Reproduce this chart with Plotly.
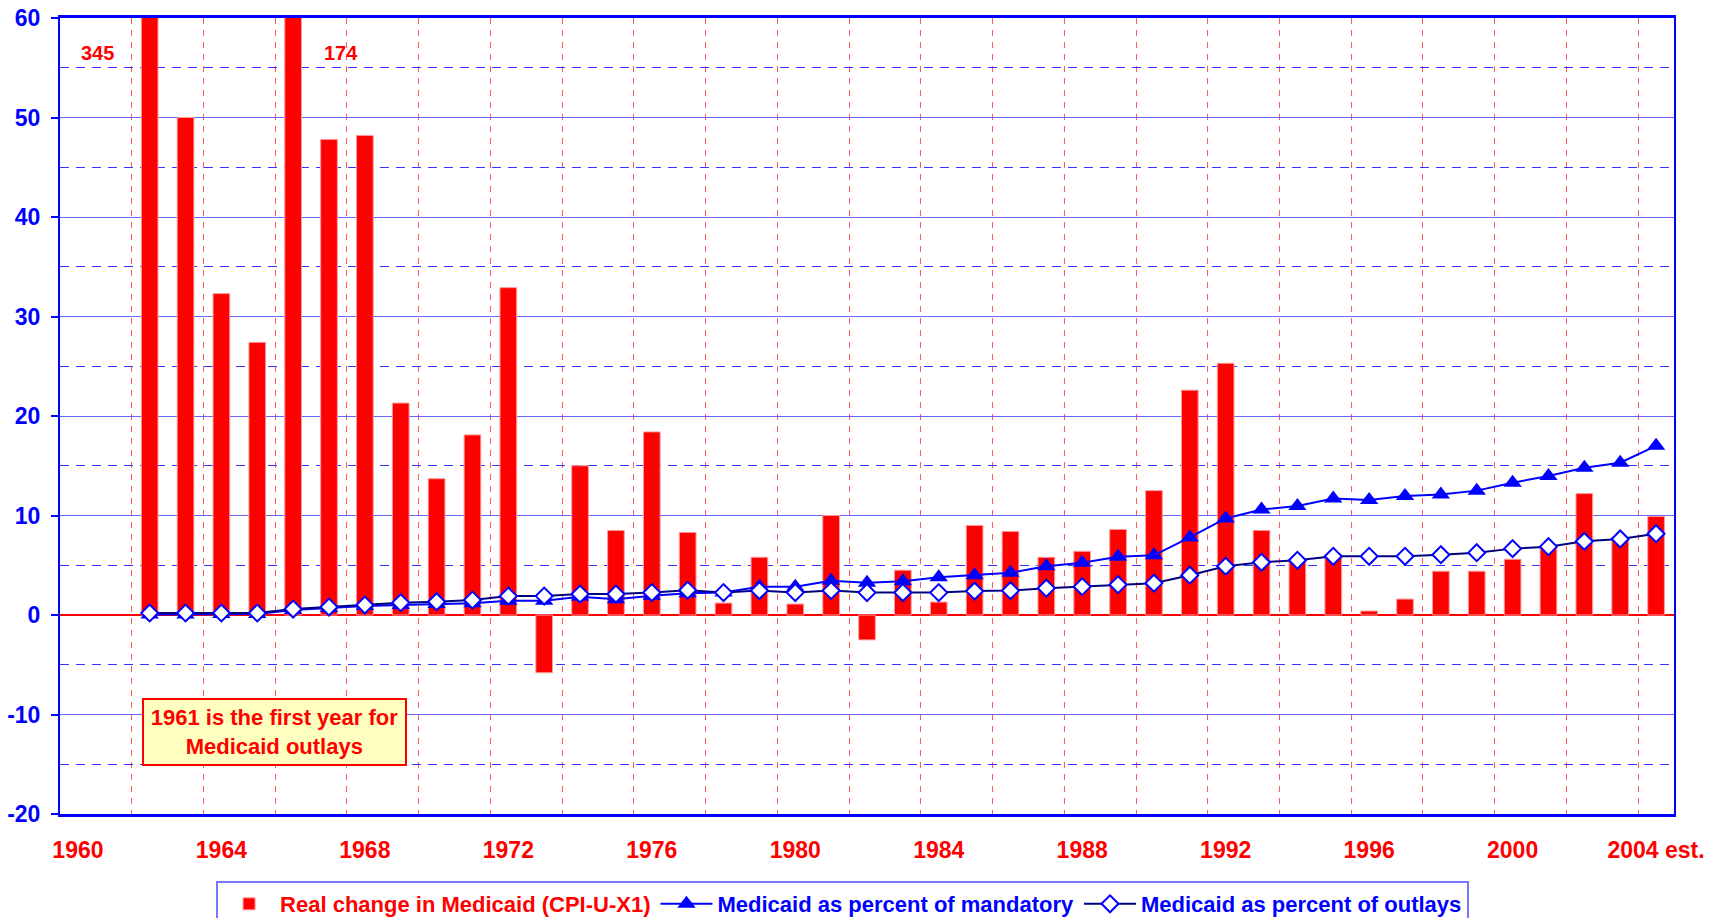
import plotly.graph_objects as go

years = list(range(1962, 2005))
real_change = [345, 50.0, 32.3, 27.4, 174, 47.8, 48.2, 21.3, 13.7, 18.1,
               32.9, -5.8, 15.0, 8.5, 18.4, 8.3, 1.2, 5.8, 1.1, 10.0,
               -2.5, 4.5, 1.3, 9.0, 8.4, 5.8, 6.4, 8.6, 12.5, 22.6,
               25.3, 8.5, 5.6, 5.9, 0.4, 1.6, 4.4, 4.4, 5.6, 6.9,
               12.2, 7.8, 9.9]
pct_mandatory = [0.05, 0.05, 0.1, 0.1, 0.5, 0.7, 0.9, 1.0, 1.1, 1.17,
                 1.44, 1.44, 1.84, 1.58, 1.94, 2.18, 2.25, 2.85, 2.85, 3.45,
                 3.25, 3.4, 3.8, 4.0, 4.25, 4.9, 5.25, 5.85, 6.0, 7.8,
                 9.7, 10.6, 10.95, 11.7, 11.55, 11.96, 12.1, 12.5, 13.3, 13.97,
                 14.8, 15.3, 17.0]
pct_outlays = [0.2, 0.2, 0.2, 0.2, 0.6, 0.8, 1.0, 1.24, 1.34, 1.5,
               1.9, 1.9, 2.1, 2.1, 2.25, 2.48, 2.25, 2.45, 2.25, 2.45,
               2.25, 2.25, 2.25, 2.4, 2.45, 2.7, 2.85, 3.05, 3.2, 4.0,
               4.9, 5.3, 5.5, 5.9, 5.9, 5.9, 6.06, 6.26, 6.67, 6.87,
               7.4, 7.64, 8.17]
tick_years = list(range(1960, 2005, 4))
tick_labels = [str(y) for y in tick_years[:-1]] + ["2004 est."]
y_ticks = list(range(-20, 61, 10))
y_tick_labels = [str(v) for v in y_ticks]
big_years = [1962, 1966]

FONT = "Liberation Sans, Arial, sans-serif"
RED = "#ff0000"
BLUE = "#0000ff"

fig = go.Figure()
fig.add_trace(go.Bar(
    x=years, y=real_change,
    name="<span style='color:#ff0000'>Real change in Medicaid (CPI-U-X1)</span>",
    marker=dict(color=RED, line=dict(color="#ff9999", width=1)),
))
fig.add_trace(go.Scatter(
    x=years, y=pct_mandatory, mode="lines+markers",
    name="Medicaid as percent of mandatory",
    line=dict(color=BLUE, width=2),
    marker=dict(symbol="triangle-up", size=16, color=BLUE),
))
fig.add_trace(go.Scatter(
    x=years, y=pct_outlays, mode="lines+markers",
    name="Medicaid as percent of outlays",
    line=dict(color="#000080", width=2),
    marker=dict(symbol="diamond", size=13, color="white",
                line=dict(color=BLUE, width=2)),
))

annotations = []
shifts = {1962: -52, 1966: 48}
for yr in big_years:
    v = real_change[years.index(yr)]
    annotations.append(dict(
        x=yr, y=56.5, xref="x", yref="y", text=str(int(v)), showarrow=False,
        xshift=shifts[yr],
        font=dict(family=FONT, size=20, color=RED, weight="bold"),
    ))
annotations.append(dict(
    x=1965.48, y=-11.8, xref="x", yref="y",
    text="1961 is the first year for<br>Medicaid outlays",
    showarrow=False, width=259, height=62,
    bgcolor="#ffffc0", bordercolor=RED, borderwidth=2, borderpad=1,
    font=dict(family=FONT, size=22, color=RED, weight="bold"),
))

fig.update_layout(
    width=1722, height=918,
    margin=dict(l=60, r=48, t=18, b=104, autoexpand=False),
    paper_bgcolor="white", plot_bgcolor="white",
    bargap=0.535,
    showlegend=True,
    legend=dict(
        orientation="h", x=0.0967, y=-0.0842, xanchor="left", yanchor="top",
        font=dict(family=FONT, size=22, color=BLUE, weight="bold"),
        bordercolor="#7777ff", borderwidth=2, bgcolor="white",
        itemwidth=52, traceorder="normal",
    ),
    annotations=annotations,
)
fig.update_xaxes(
    range=[1959.5, 2004.5], automargin=False, ticklabeloverflow="allow",
    tickmode="array", tickvals=tick_years, ticktext=tick_labels,
    tickfont=dict(family=FONT, size=23, color=RED, weight="bold"),
    ticks="", ticklabelstandoff=14,
    showgrid=False,
    minor=dict(tick0=1961.5, dtick=2, showgrid=True, gridcolor="rgba(255,60,60,0.85)",
               griddash="6px,6px", gridwidth=1, ticks=""),
    showline=True, linecolor=BLUE, linewidth=2.5, mirror=True,
    zeroline=False,
)
fig.update_yaxes(
    range=[-20, 60], automargin=False, ticklabeloverflow="allow",
    tickmode="array", tickvals=y_ticks, ticktext=y_tick_labels,
    tickfont=dict(family=FONT, size=23, color=BLUE, weight="bold"),
    ticks="outside", ticklen=7, tickcolor=BLUE, tickwidth=1.5, ticklabelstandoff=6,
    showgrid=True, gridcolor="#6666ff", gridwidth=1,
    minor=dict(tick0=-15, dtick=10, showgrid=True, gridcolor="#3333ff", griddash="9px,7px", gridwidth=1),
    zeroline=True, zerolinecolor=RED, zerolinewidth=2,
    showline=True, linecolor=BLUE, linewidth=2, mirror=True,
)

# remove the browser's default 8px body margin so the figure fills the window
fig.write_html("out.html", config={"displayModeBar": False},
               post_script="document.body.style.margin='0px';")
